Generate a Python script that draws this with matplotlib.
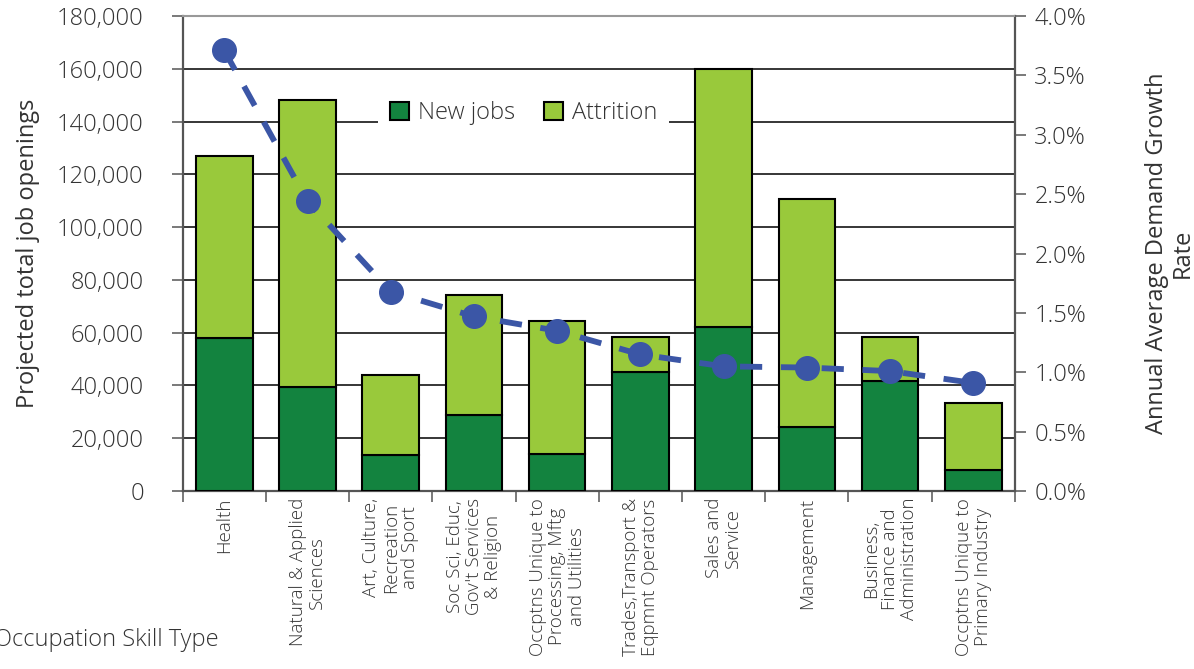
import numpy as np
import matplotlib
matplotlib.use("Agg")
import matplotlib.pyplot as plt
from matplotlib.ticker import FuncFormatter, MultipleLocator

plt.rcParams['font.family'] = ['Open Sans', 'DejaVu Sans']
plt.rcParams['font.weight'] = 'light'

occupations = [
    "Health",
    "Natural & Applied\nSciences",
    "Art, Culture,\nRecreation\nand Sport",
    "Soc Sci, Educ,\nGov't Services\n& Religion",
    "Occptns Unique to\nProcessing, Mftg\nand Utilities",
    "Trades,Transport &\nEqpmnt Operators",
    "Sales and\nService",
    "Management",
    "Business,\nFinance and\nAdministration",
    "Occptns Unique to\nPrimary Industry",
]
new_jobs = [58000, 39500, 13500, 29000, 14200, 45000, 62000, 24200, 41600, 8000]
total_openings = [127000, 148000, 44000, 74200, 64400, 58300, 160000, 110800, 58300, 33300]
attrition = [t - n for t, n in zip(total_openings, new_jobs)]
growth_rate = [3.71, 2.44, 1.68, 1.47, 1.35, 1.15, 1.05, 1.04, 1.01, 0.91]

dark_green = "#13833f"
light_green = "#99c93b"
blue = "#3b56a6"
text_col = "#333333"

fig = plt.figure(figsize=(11.94, 6.69), dpi=100)
ax = fig.add_axes([0.153, 0.266, 0.697, 0.710])
ax2 = ax.twinx()

x = np.arange(len(occupations))
ax.bar(x, new_jobs, width=0.68, color=dark_green, edgecolor="black", linewidth=1.5,
       label="New jobs", zorder=3)
ax.bar(x, attrition, width=0.68, bottom=new_jobs, color=light_green, edgecolor="black",
       linewidth=1.5, label="Attrition", zorder=3)

ax.set_xlim(-0.5, len(occupations) - 0.5)
ax.set_ylim(0, 180000)
ax.yaxis.set_major_locator(MultipleLocator(20000))
ax.yaxis.set_major_formatter(FuncFormatter(lambda v, p: f"{int(v):,}"))
ax.grid(axis="y", color="black", linewidth=1.1, zorder=0)
ax.set_axisbelow(True)

# category labels sit under the bars, tick marks at the boundaries
ax.set_xticks(x)
ax.set_xticklabels(occupations, rotation=90, ha="center", va="top", fontsize=13.5,
                   color=text_col, linespacing=1.1)
ax.tick_params(axis="x", which="major", length=0, pad=5)
ax.set_xticks(np.arange(-0.5, len(occupations)), minor=True)
ax.tick_params(axis="x", which="minor", length=8, width=1.1, color="#555555", direction="out")
ax.tick_params(axis="y", labelsize=17, labelcolor=text_col, length=8, width=1.1,
               color="#555555", pad=20)

ax.set_ylabel("Projected total job openings", fontsize=17, color=text_col, labelpad=12)

for side in ["left", "right", "bottom"]:
    ax.spines[side].set_color("#555555")
    ax.spines[side].set_linewidth(1.6)
ax.spines["top"].set_color("#999999")
ax.spines["top"].set_linewidth(1.5)

ax2.plot(x, growth_rate, color=blue, linestyle=(0, (3.8, 3.2)), linewidth=4.2,
         marker="o", markersize=17, dash_capstyle="butt", zorder=5)
ax2.set_ylim(0, 4.0)
ax2.yaxis.set_major_locator(MultipleLocator(0.5))
ax2.yaxis.set_major_formatter(FuncFormatter(lambda v, p: f"{v:.1f}%"))
ax2.tick_params(axis="y", labelsize=17, labelcolor=text_col, length=8, width=1.1,
                color="#555555", pad=6)
ax2.set_ylabel("Annual Average Demand Growth\nRate", fontsize=17, color=text_col,
               labelpad=42, linespacing=1.1)
for side in ["left", "right", "bottom", "top"]:
    ax2.spines[side].set_visible(False)

ax.set_zorder(ax2.get_zorder() - 1)
ax.patch.set_visible(True)
ax2.patch.set_visible(False)

leg = ax2.legend(*ax.get_legend_handles_labels(), loc="center", bbox_to_anchor=(0.41, 0.795),
                 ncol=2, frameon=True, fontsize=17, handlelength=0.8, handleheight=0.8,
                 handletextpad=0.4, columnspacing=1.2, borderpad=0.5)
leg.get_frame().set_edgecolor("none")
leg.get_frame().set_facecolor("white")
leg.get_frame().set_alpha(1)
for t in leg.get_texts():
    t.set_color(text_col)

fig.text(-0.005, 0.043, "Occupation Skill Type", fontsize=17, color=text_col, ha="left", va="center")

fig.savefig("out.png", dpi=100)
